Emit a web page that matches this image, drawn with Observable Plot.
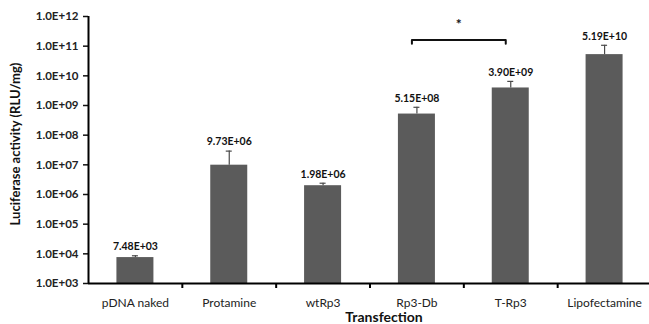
<!DOCTYPE html>
<html>
<head>
<meta charset="utf-8">
<script src="https://cdn.jsdelivr.net/npm/d3@7"></script>
<script src="https://cdn.jsdelivr.net/npm/@observablehq/plot@0.6"></script>
<style>
  html, body { margin: 0; padding: 0; background: #fff; }
  svg { font-family: Lato, "Open Sans", sans-serif; }
</style>
</head>
<body>
<div id="chart"></div>
<script>
const categories = ["pDNA naked", "Protamine", "wtRp3", "Rp3-Db", "T-Rp3", "Lipofectamine"];
const values = [7.48e3, 9.73e6, 1.98e6, 5.15e8, 3.90e9, 5.19e10];
const errorTops = [8.6e3, 2.9e7, 2.4e6, 8.7e8, 6.5e9, 1.07e11];
const valueLabels = ["7.48E+03", "9.73E+06", "1.98E+06", "5.15E+08", "3.90E+09", "5.19E+10"];
const yTicks = [1e3, 1e4, 1e5, 1e6, 1e7, 1e8, 1e9, 1e10, 1e11, 1e12];
const yTickLabels = ["1.0E+03", "1.0E+04", "1.0E+05", "1.0E+06", "1.0E+07", "1.0E+08", "1.0E+09", "1.0E+10", "1.0E+11", "1.0E+12"];
const bracketPair = ["Rp3-Db", "T-Rp3"];
const bracketLevels = [1.2e11, 1.6e11];
const starLevel = 5.5e11;

const data = categories.map((c, i) => ({category: c, value: values[i], err: errorTops[i], label: valueLabels[i]}));

const W = 649, H = 324;
const left = 88, right = 651;
const step = (right - left) / categories.length;
const barW = 37;
const inset = (step - barW) / 2;
const capInset = (step - 6) / 2;
const yMin = yTicks[0], yMax = yTicks[yTicks.length - 1];

const bracket = [
  {category: bracketPair[0], y: bracketLevels[0]},
  {category: bracketPair[0], y: bracketLevels[1]},
  {category: bracketPair[1], y: bracketLevels[1]},
  {category: bracketPair[1], y: bracketLevels[0]}
];

const chart = Plot.plot({
  width: W,
  height: H,
  marginLeft: left,
  marginRight: 0,
  marginTop: 16,
  marginBottom: 41,
  style: {fontFamily: "Lato, 'Open Sans', sans-serif"},
  x: {type: "band", domain: categories, range: [left, right], padding: 0, round: false},
  y: {type: "log", domain: [yMin, yMax], range: [283, 16]},
  marks: [
    Plot.barY(data, {x: "category", y1: yMin, y2: "value", fill: "#5b5b5b", insetLeft: inset, insetRight: inset}),
    Plot.ruleX(data, {x: "category", y1: "value", y2: "err", stroke: "#4a4a4a", strokeWidth: 1.2}),
    Plot.tickY(data, {x: "category", y: "err", stroke: "#4a4a4a", strokeWidth: 1.2, insetLeft: capInset, insetRight: capInset}),
    Plot.text(data, {x: "category", y: "err", text: "label", dy: -9, fontSize: 10.5, fontWeight: "bold", fill: "#111"}),
    Plot.axisY({ticks: yTicks, tickFormat: (d) => yTickLabels[yTicks.indexOf(d)], tickSize: 5, tickPadding: 5, strokeWidth: 1.5, stroke: "#111", fontSize: 11.5, fontWeight: "bold", color: "#222", label: null}),
    // y-axis line at the left edge of the first band
    Plot.ruleX([categories[0]], {x: d => d, y1: yMin, y2: yMax, dx: -step / 2, stroke: "black", strokeWidth: 2}),
    // x-axis line
    Plot.ruleY([yMin], {stroke: "black", strokeWidth: 2}),
    // x-axis tick marks at band boundaries, pointing down
    Plot.ruleX(categories.slice(1), {x: d => d, y1: yMin, y2: yMin, insetBottom: -5, dx: -step / 2, stroke: "black", strokeWidth: 2}),
    Plot.axisX({tickSize: 0, tickPadding: 15, fontSize: 12, color: "#222", label: null}),
    Plot.line(bracket, {x: "category", y: "y", stroke: "#111", strokeWidth: 2, dx: -5}),
    Plot.text([{category: bracketPair[0], y: starLevel}], {x: "category", y: "y", text: () => "*", dx: step / 2 - 5, fontSize: 14, fontWeight: "bold", fill: "#111"}),
    Plot.text(["Luciferase activity (RLU/mg)"], {frameAnchor: "left", textAnchor: "middle", lineAnchor: "middle", rotate: -90, dx: -73, dy: -6, fontSize: 13, fontWeight: "bold", fill: "#111"}),
    Plot.text(["Transfection"], {frameAnchor: "bottom", lineAnchor: "middle", dx: 15, dy: 34, fontSize: 14, fontWeight: "bold", fill: "#111"})
  ]
});
document.getElementById("chart").appendChild(chart);
</script>
</body>
</html>
